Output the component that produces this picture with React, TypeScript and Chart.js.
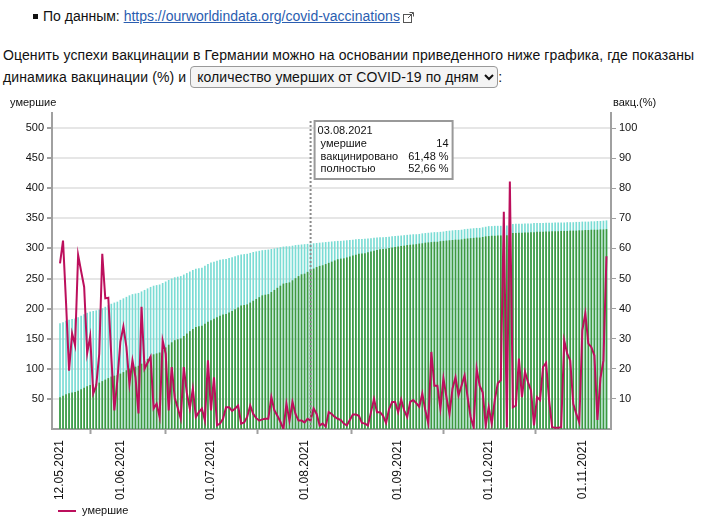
import React, { useRef, useEffect } from 'react';
import { Chart, registerables } from 'chart.js';

Chart.register(...registerables);

const FONT = '"Liberation Sans", Arial, sans-serif';

// 12.05.2021 .. 09.11.2021, one value per day
const START_DATE = Date.UTC(2021, 4, 12);

// daily deaths (left axis)
const DEATHS = [
  // May 12-31
  275, 313, 210, 97, 159, 139, 289, 262, 236, 126, 154, 59, 72, 125, 291, 217, 218, 120, 31, 81,
  // June
  145, 170, 136, 75, 114, 86, 26, 203, 100, 110, 120, 34, 42, 20, 147, 125, 31, 103, 52, 35,
  17, 103, 60, 34, 67, 20, 28, 34, 14, 114,
  // July
  31, 86, 6, 9, 17, 36, 36, 30, 34, 39, 9, 11, 20, 39, 25, 18, 14, 16, 17, 17,
  53, 31, 22, 12, 0, 42, 14, 45, 25, 14, 14,
  // August
  11, 17, 14, 34, 25, 6, 9, 4, 28, 25, 20, 17, 15, 9, 6, 15, 24, 24, 22, 10,
  9, 6, 28, 50, 28, 28, 22, 10, 33, 45, 45,
  // September
  28, 49, 31, 20, 45, 48, 43, 37, 59, 31, 9, 128, 72, 72, 34, 84, 53, 25, 67, 86,
  56, 72, 89, 53, 20, 3, 100, 72, 61, 6,
  // October
  36, 9, 48, 76, 81, 361, 3, 411, 36, 39, 117, 53, 95, 78, 64, 6, 53, 48, 103, 110,
  48, 3, 2, 2, 3, 147, 125, 114, 42, 25, 11,
  // November 1-9
  164, 192, 142, 136, 122, 15, 84, 114, 287,
];

// at least one dose, % (right axis)
const VACCINATED = [
  35.0, 35.4, 35.9, 36.2, 36.4, 36.6, 37.0, 37.5, 38.0, 38.5, 38.9, 39.1, 39.3, 39.6, 40.0, 40.5, 41.0, 41.5, 41.9, 42.2,
  42.8, 43.3, 43.8, 44.3, 44.7, 44.9, 45.1, 45.6, 46.1, 46.6, 47.1, 47.5, 47.7, 47.9, 48.4, 48.9, 49.4, 49.9, 50.3, 50.5,
  50.7, 51.2, 51.7, 52.2, 52.7, 53.1, 53.3, 53.5, 54.1, 54.7,
  55.2, 55.5, 55.8, 56.1, 56.3, 56.4, 56.7, 57.0, 57.3, 57.6, 57.9, 58.0, 58.1, 58.4, 58.7, 58.9, 59.1, 59.3, 59.4, 59.5,
  59.7, 59.9, 60.1, 60.3, 60.5, 60.6, 60.6, 60.8, 61.0, 61.1, 61.2,
  61.3, 61.4, 61.48, 61.6, 61.7, 61.8, 61.9, 62.0, 62.1, 62.2, 62.3, 62.4, 62.4, 62.5, 62.6, 62.7, 62.8, 62.9, 63.0, 63.0,
  63.1, 63.2, 63.3, 63.4, 63.5, 63.6, 63.6, 63.7, 63.8, 63.9, 64.0,
  64.1, 64.2, 64.3, 64.4, 64.5, 64.6, 64.6, 64.7, 64.9, 65.0, 65.1, 65.2, 65.3, 65.3, 65.4, 65.5, 65.7, 65.8, 65.9, 66.0,
  66.0, 66.1, 66.3, 66.4, 66.5, 66.6, 66.7, 66.7, 66.9, 67.1,
  67.3, 67.3, 67.4, 67.4, 67.4, 67.5, 67.5, 68.0, 68.0, 68.1, 68.1, 68.1, 68.2, 68.2, 68.2, 68.3, 68.3, 68.3, 68.3, 68.4,
  68.4, 68.4, 68.5, 68.5, 68.5, 68.5, 68.6, 68.6, 68.6, 68.7, 68.7,
  68.8, 68.8, 68.8, 68.9, 68.9, 69.0, 69.0, 69.1, 69.2,
];

// fully vaccinated, % (right axis)
const FULLY = [
  10.4, 10.9, 11.4, 11.8, 12.0, 12.2, 12.6, 13.1, 13.6, 14.1, 14.5, 14.7, 14.9, 15.3, 15.8, 16.3, 16.8, 17.3, 17.6, 17.8,
  18.3, 18.8, 19.4, 20.0, 20.4, 20.6, 20.9, 21.6, 22.4, 23.2, 24.0, 24.7, 25.0, 25.3, 26.1, 27.0, 27.9, 28.7, 29.4, 29.7,
  30.0, 30.8, 31.6, 32.4, 33.1, 33.8, 34.0, 34.2, 34.9, 35.5,
  36.0, 36.5, 37.0, 37.5, 37.9, 38.1, 38.6, 39.1, 39.7, 40.3, 40.9, 41.1, 41.3, 41.9, 42.5, 43.1, 43.7, 44.3, 44.5, 44.7,
  45.4, 46.1, 46.8, 47.5, 48.2, 48.4, 48.6, 49.3, 50.0, 50.7, 51.3,
  51.5, 52.1, 52.66, 53.2, 53.7, 54.1, 54.3, 54.7, 55.1, 55.5, 55.9, 56.3, 56.5, 56.6, 56.9, 57.2, 57.5, 57.8, 58.1, 58.2,
  58.3, 58.6, 58.9, 59.1, 59.4, 59.6, 59.7, 59.8, 60.0, 60.2, 60.4,
  60.5, 60.7, 60.8, 61.0, 61.1, 61.2, 61.3, 61.5, 61.6, 61.8, 61.9, 62.0, 62.1, 62.1, 62.3, 62.4, 62.5, 62.6, 62.7, 62.8,
  62.8, 62.9, 63.1, 63.2, 63.3, 63.4, 63.5, 63.5, 63.7, 63.9,
  64.0, 64.1, 64.1, 64.2, 64.2, 64.3, 64.3, 64.9, 65.0, 65.0, 65.1, 65.1, 65.2, 65.2, 65.3, 65.3, 65.4, 65.4, 65.4, 65.5,
  65.5, 65.6, 65.6, 65.6, 65.7, 65.7, 65.7, 65.8, 65.8, 65.8, 65.9,
  65.9, 66.0, 66.0, 66.1, 66.1, 66.1, 66.2, 66.2, 66.3,
];

// x-axis tick positions (day index) and their labels
const X_TICKS = [0, 20, 50, 81, 112, 142, 173];
const X_TICK_LABELS = ['12.05.2021', '01.06.2021', '01.07.2021', '01.08.2021', '01.09.2021', '01.10.2021', '01.11.2021'];
const LEFT_TICKS = [50, 100, 150, 200, 250, 300, 350, 400, 450, 500];
const RIGHT_TICKS = [10, 20, 30, 40, 50, 60, 70, 80, 90, 100];

// the day shown in the tooltip
const HOVER_INDEX = 83;

const LINE_COLOR = '#bc0f5c';

const pad = (n: number) => String(n).padStart(2, '0');
function dayLabel(i: number) {
  const d = new Date(START_DATE + i * 86400000);
  return `${pad(d.getUTCDate())}.${pad(d.getUTCMonth() + 1)}.${d.getUTCFullYear()}`;
}
const pct = (v: number) => v.toFixed(2).replace('.', ',') + ' %';

const overlayPlugin = {
  id: 'overlay',
  afterDatasetsDraw(chart: any) {
    const { ctx, chartArea, scales } = chart;
    const x = scales.x.getPixelForValue(HOVER_INDEX);
    const top = chartArea.top + 8;
    ctx.save();
    ctx.strokeStyle = '#8c8c8c';
    ctx.lineWidth = 2;
    ctx.setLineDash([2, 2]);
    ctx.beginPath();
    ctx.moveTo(x, top);
    ctx.lineTo(x, chartArea.bottom);
    ctx.stroke();
    ctx.setLineDash([]);

    // static tooltip
    const bx = x + 4;
    const bw = 138;
    const bh = 58;
    ctx.fillStyle = '#fff';
    ctx.fillRect(bx, top, bw, bh);
    ctx.strokeStyle = '#999';
    ctx.lineWidth = 2;
    ctx.strokeRect(bx, top, bw, bh);
    ctx.fillStyle = '#111';
    ctx.font = `11px ${FONT}`;
    ctx.textBaseline = 'middle';
    ctx.textAlign = 'left';
    ctx.fillText(dayLabel(HOVER_INDEX), bx + 3, top + 10);
    const rows: [string, string][] = [
      ['умершие', String(DEATHS[HOVER_INDEX])],
      ['вакцинировано', pct(VACCINATED[HOVER_INDEX])],
      ['полностью', pct(FULLY[HOVER_INDEX])],
    ];
    rows.forEach(([k, v], r) => {
      const y = top + 23 + r * 12.7;
      ctx.textAlign = 'left';
      ctx.fillText(k, bx + 6, y);
      ctx.textAlign = 'right';
      ctx.fillText(v, bx + bw - 4, y);
    });
    ctx.restore();
  },
  afterDraw(chart: any) {
    const { ctx, chartArea } = chart;
    ctx.save();
    ctx.fillStyle = '#111';
    ctx.font = `11px ${FONT}`;
    ctx.textBaseline = 'middle';
    ctx.textAlign = 'left';
    // axis titles above the axes
    ctx.fillText('умершие', 10, chartArea.top - 10);
    ctx.fillText('вакц.(%)', chartArea.right + 2, chartArea.top - 10);
    // legend (line series only)
    const ly = chart.height - 16;
    ctx.strokeStyle = LINE_COLOR;
    ctx.lineWidth = 2;
    ctx.beginPath();
    ctx.moveTo(58, ly);
    ctx.lineTo(76, ly);
    ctx.stroke();
    ctx.fillText(chart.data.datasets[0].label, 82, ly);
    ctx.restore();
  },
};

function VaccinationChart() {
  const canvasRef = useRef<HTMLCanvasElement>(null);
  const chartRef = useRef<Chart | null>(null);

  useEffect(() => {
    const canvas = canvasRef.current;
    if (!canvas) return;
    chartRef.current?.destroy();

    const days = DEATHS.map((_, i) => i);

    chartRef.current = new Chart(canvas, {
      type: 'bar',
      data: {
        datasets: [
          {
            type: 'line',
            label: 'умершие',
            data: days.map(i => ({ x: i, y: DEATHS[i] })),
            borderColor: LINE_COLOR,
            backgroundColor: LINE_COLOR,
            borderWidth: 2,
            pointRadius: 0,
            tension: 0,
            yAxisID: 'y',
            order: 0,
          },
          {
            type: 'bar',
            label: 'полностью',
            data: days.map(i => ({ x: i, y: FULLY[i] })),
            backgroundColor: '#3f993f',
            barThickness: 1,
            grouped: false,
            yAxisID: 'y1',
            order: 1,
          },
          {
            type: 'bar',
            label: 'вакцинировано',
            data: days.map(i => ({ x: i, y: VACCINATED[i] })),
            backgroundColor: '#7adcd4',
            barThickness: 1,
            grouped: false,
            yAxisID: 'y1',
            order: 2,
          },
        ],
      } as any,
      options: {
        animation: false,
        responsive: false,
        maintainAspectRatio: false,
        layout: { padding: { top: 21, right: 64, left: 0, bottom: 24 } },
        plugins: {
          tooltip: { enabled: false },
          legend: { display: false },
        },
        scales: {
          x: {
            type: 'linear',
            offset: false,
            min: -2.65,
            max: 182.5,
            afterBuildTicks: s => { s.ticks = X_TICKS.map(v => ({ value: v })); },
            afterFit: s => { s.height = 74; },
            ticks: {
              autoSkip: false,
              minRotation: 90,
              maxRotation: 90,
              padding: 6,
              color: '#111',
              font: { size: 12, family: FONT },
              callback: v => X_TICK_LABELS[X_TICKS.indexOf(Number(v))] ?? '',
            },
            grid: { drawOnChartArea: false, tickLength: 5, tickColor: '#a0a0a0', tickWidth: 2 },
            border: { color: '#a0a0a0', width: 2 },
          },
          y: {
            position: 'left',
            min: 0,
            max: 525,
            afterBuildTicks: s => { s.ticks = LEFT_TICKS.map(v => ({ value: v })); },
            afterFit: s => { s.width = 52; },
            ticks: { color: '#111', font: { size: 11, family: FONT }, padding: 3 },
            grid: { color: '#e6e6e6', lineWidth: 2, tickLength: 5, tickColor: '#a0a0a0' },
            border: { color: '#a0a0a0', width: 2 },
          },
          y1: {
            position: 'right',
            min: 0,
            max: 105,
            afterBuildTicks: s => { s.ticks = RIGHT_TICKS.map(v => ({ value: v })); },
            afterFit: s => { s.width = 45; },
            ticks: { color: '#111', font: { size: 11, family: FONT }, padding: 3 },
            grid: { drawOnChartArea: false, tickLength: 5, tickColor: '#a0a0a0' },
            border: { color: '#a0a0a0', width: 2 },
          },
        },
      },
      plugins: [overlayPlugin],
    });

    return () => {
      chartRef.current?.destroy();
      chartRef.current = null;
    };
  }, []);

  return <canvas ref={canvasRef} width={720} height={435} style={{ display: 'block' }} />;
}

export default function App() {
  return (
    <div style={{ position: 'absolute', left: 0, top: 0, width: 720, height: 527, background: '#fff', fontFamily: FONT, color: '#111', overflow: 'hidden' }}>
      <div style={{ position: 'absolute', left: 33, top: 6, fontSize: 14, lineHeight: '20px', whiteSpace: 'nowrap' }}>
        <span style={{ display: 'inline-block', width: 5, height: 5, background: '#111', verticalAlign: 'middle', marginRight: 5, position: 'relative', top: -1 }} />
        По данным:{' '}
        <a href="#" style={{ color: '#2a5db0', textDecoration: 'underline' }}>https://ourworldindata.org/covid-vaccinations</a>
        <svg width="11" height="11" viewBox="0 0 11 11" style={{ marginLeft: 3, verticalAlign: 'middle' }}>
          <rect x="0.5" y="2.5" width="8" height="8" fill="none" stroke="#555" />
          <path d="M5 6 L10 1 M6.5 0.5 H10.5 V4.5" fill="none" stroke="#555" />
        </svg>
      </div>
      <div style={{ position: 'absolute', left: 3, top: 44, fontSize: 14, letterSpacing: '0.1px', lineHeight: '22px', whiteSpace: 'nowrap' }}>
        Оценить успехи вакцинации в Германии можно на основании приведенного ниже графика, где показаны
        <br />
        динамика вакцинации (%) и{' '}
        <select defaultValue="deaths" style={{ fontFamily: FONT, fontSize: 14, letterSpacing: '0.1px', color: '#111', height: 22, borderRadius: 4, border: '1px solid #999', background: '#f4f4f4', padding: '0 2px' }}>
          <option value="deaths">количество умерших от COVID-19 по дням</option>
        </select>
        :
      </div>
      <div style={{ position: 'absolute', left: 0, top: 92 }}>
        <VaccinationChart />
      </div>
    </div>
  );
}
